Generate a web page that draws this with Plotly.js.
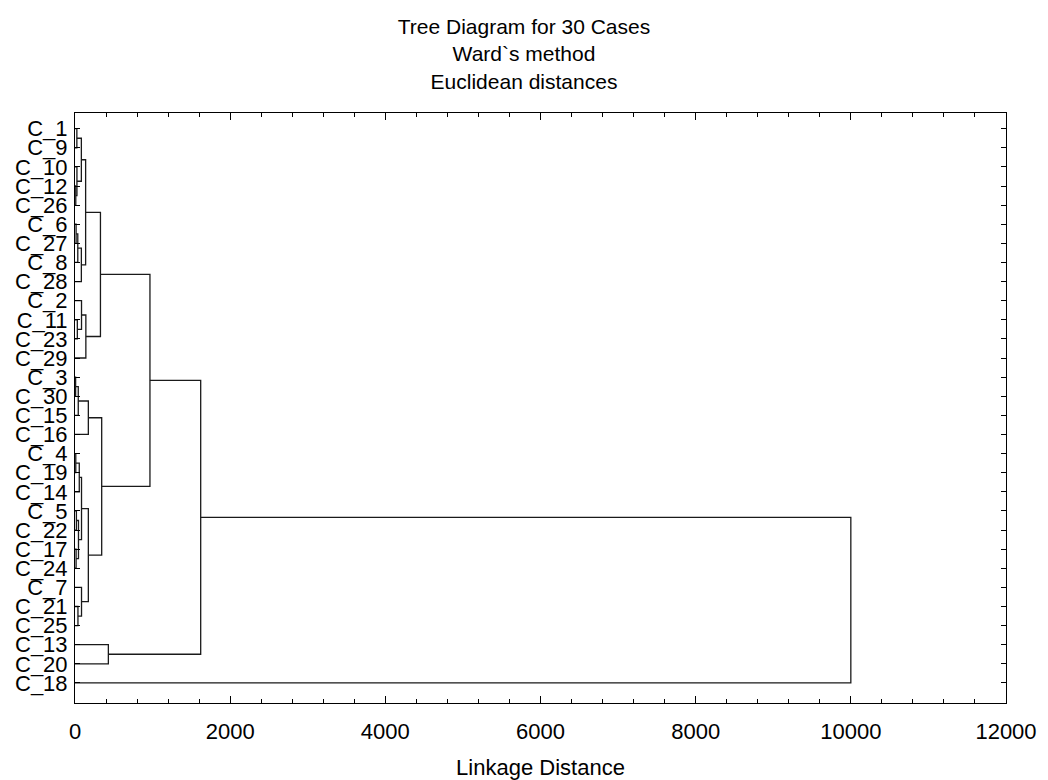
<!DOCTYPE html>
<html>
<head>
<meta charset="utf-8">
<script src="https://cdn.plot.ly/plotly-3.0.1.min.js"></script>
<style>html,body{margin:0;padding:0;background:#fff;} #chart{width:1048px;height:780px;}</style>
</head>
<body>
<div id="chart"></div>
<script>
// Leaf order (top to bottom)
const leaves = ["C_1","C_9","C_10","C_12","C_26","C_6","C_27","C_8","C_28","C_2","C_11","C_23","C_29","C_3","C_30","C_15","C_16","C_4","C_19","C_14","C_5","C_22","C_17","C_24","C_7","C_21","C_25","C_13","C_20","C_18"];

// Linkage steps (cluster Mk is created by step k)
const mergeLeft  = ["C_3","C_4","C_12","C_6","C_17","C_5","C_1","C_11","C_10","C_21","M4","M1","M6","M2","M7","M11","C_2","C_7","M14","M15","M17","M12","M19","M20","M22","C_13","M24","M27","M28"];
const mergeRight = ["C_30","C_19","C_26","C_27","C_24","C_22","C_9","C_23","M3","C_25","C_8","C_15","M5","C_14","M9","C_28","M8","M10","M13","M16","C_29","C_16","M18","M21","M23","C_20","M25","M26","C_18"];
const mergeDist  = [8,10,10,14,14,18,24,30,25,38,36,42,45,55,82,82,84,84,84,137,140,172,172,328,344,430,966,1620,10000];

const xTickVals = [0,2000,4000,6000,8000,10000,12000];

const pos = {};
leaves.forEach((l,i) => { pos[l] = {x:0, y:i+1}; });
const xs = [], ys = [];
for (let k = 0; k < mergeDist.length; k++) {
  const a = pos[mergeLeft[k]], b = pos[mergeRight[k]], d = mergeDist[k];
  xs.push(a.x, d, d, b.x, null);
  ys.push(a.y, a.y, b.y, b.y, null);
  pos["M" + (k+1)] = {x:d, y:(a.y + b.y)/2};
}

const font = {family: "Liberation Sans, Arial, sans-serif", color: "#000"};

const trace = {
  x: xs, y: ys, type: "scatter", mode: "lines",
  line: {color: "#1a1a1a", width: 1.3},
  hoverinfo: "skip", showlegend: false, connectgaps: false
};

const layout = {
  width: 1048, height: 780,
  paper_bgcolor: "#fff", plot_bgcolor: "#fff",
  margin: {l: 75, r: 42, t: 113, b: 77},
  font: Object.assign({size: 21}, font),
  title: {
    text: "Tree Diagram for 30 Cases<br>Ward`s method<br>Euclidean distances",
    font: Object.assign({size: 21}, font),
    x: 0.5, xref: "container", xanchor: "center",
    y: 1 - 34/780, yref: "container", yanchor: "top"
  },
  xaxis: {
    range: [0, 12000], tickmode: "array", tickvals: xTickVals,
    ticktext: xTickVals.map(String),
    ticks: "inside", ticklen: 7, tickwidth: 1, tickcolor: "#000",
    minor: {dtick: 400, tick0: 0, ticks: "inside", ticklen: 4, tickcolor: "#000", showgrid: false},
    showline: true, linecolor: "#000", linewidth: 1, mirror: "ticks",
    showgrid: false, zeroline: false, automargin: false,
    tickfont: Object.assign({size: 22}, font),
    ticklabelstandoff: 9,
    title: {text: "Linkage Distance", font: Object.assign({size: 22}, font), standoff: 18}
  },
  yaxis: {
    range: [31.05, 0.18], tickmode: "array",
    tickvals: leaves.map((l,i) => i+1), ticktext: leaves,
    ticks: "inside", ticklen: 5, tickwidth: 1, tickcolor: "#000",
    showline: true, linecolor: "#000", linewidth: 1, mirror: "ticks",
    showgrid: false, zeroline: false, automargin: false,
    tickfont: Object.assign({size: 22}, font),
    ticklabelstandoff: 2
  }
};

Plotly.newPlot("chart", [trace], layout, {displayModeBar: false, staticPlot: true});
</script>
</body>
</html>
